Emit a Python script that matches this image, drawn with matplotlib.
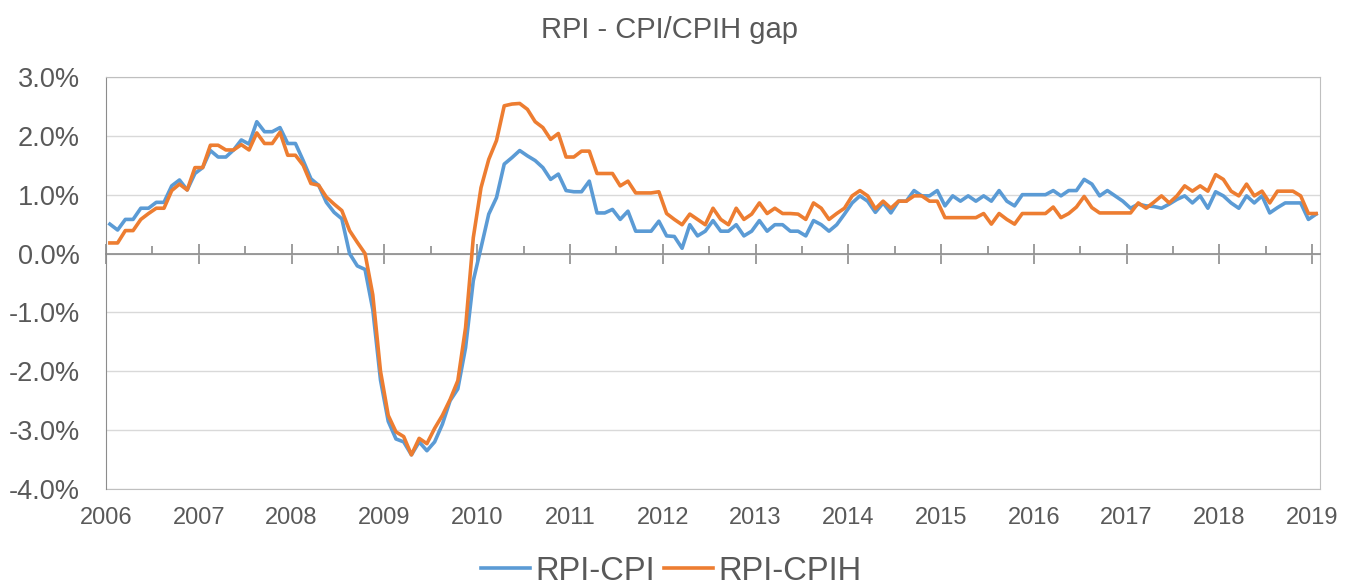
import numpy as np
import matplotlib.pyplot as plt
from matplotlib.ticker import FuncFormatter, MultipleLocator

plt.rcParams["font.family"] = ["Liberation Sans", "DejaVu Sans"]

title = "RPI - CPI/CPIH gap"
series_names = ["RPI-CPI", "RPI-CPIH"]
first_year = 2006
years = list(range(2006, 2020))

# monthly gap in percentage points, Jan 2006 .. Jan 2019
rpi_cpi = [
    0.5, 0.4, 0.58, 0.58, 0.77, 0.77, 0.87, 0.87, 1.15, 1.25, 1.08, 1.36,
    1.46, 1.75, 1.64, 1.64, 1.76, 1.93, 1.86, 2.24, 2.07, 2.07, 2.14, 1.87,
    1.87, 1.58, 1.27, 1.16, 0.87, 0.7, 0.59, 0.0, -0.21, -0.27, -0.95, -2.15,
    -2.85, -3.15, -3.2, -3.42, -3.2, -3.35, -3.2, -2.9, -2.5, -2.3, -1.6, -0.46,
    0.1, 0.67, 0.95, 1.52, 1.63, 1.75, 1.66, 1.58, 1.46, 1.26, 1.35, 1.07,
    1.05, 1.05, 1.23, 0.69, 0.69, 0.75, 0.58, 0.72, 0.38, 0.38, 0.38, 0.55,
    0.3, 0.29, 0.09, 0.49, 0.3, 0.38, 0.56, 0.38, 0.38, 0.49, 0.3, 0.38,
    0.56, 0.38, 0.49, 0.49, 0.38, 0.38, 0.3, 0.56, 0.49, 0.38, 0.49, 0.67,
    0.86, 0.98, 0.89, 0.7, 0.86, 0.69, 0.89, 0.89, 1.07, 0.98, 0.98, 1.07,
    0.81, 0.98, 0.89, 0.98, 0.89, 0.98, 0.89, 1.07, 0.89, 0.81, 1.0, 1.0,
    1.0, 1.0, 1.07, 0.98, 1.07, 1.07, 1.26, 1.18, 0.98, 1.07, 0.98, 0.89,
    0.77, 0.84, 0.81, 0.8, 0.77, 0.84, 0.92, 0.98, 0.86, 0.98, 0.77, 1.05,
    0.98, 0.86, 0.77, 0.98, 0.86, 0.98, 0.69, 0.78, 0.86, 0.86, 0.86, 0.58,
    0.67,
]
rpi_cpih = [
    0.18, 0.18, 0.39, 0.39, 0.58, 0.68, 0.77, 0.77, 1.07, 1.18, 1.08, 1.46,
    1.46, 1.84, 1.84, 1.76, 1.76, 1.85, 1.76, 2.05, 1.87, 1.87, 2.06, 1.67,
    1.67, 1.5, 1.19, 1.16, 0.96, 0.84, 0.73, 0.39, 0.19, 0.0, -0.7, -2.0,
    -2.75, -3.03, -3.11, -3.42, -3.14, -3.23, -2.97, -2.75, -2.48, -2.16, -1.26, 0.27,
    1.12, 1.6, 1.92, 2.51, 2.54, 2.55, 2.45, 2.24, 2.14, 1.94, 2.04, 1.64,
    1.64, 1.74, 1.74, 1.36, 1.36, 1.36, 1.15, 1.23, 1.03, 1.03, 1.03, 1.05,
    0.68, 0.58, 0.49, 0.67, 0.58, 0.49, 0.77, 0.58, 0.49, 0.77, 0.58, 0.67,
    0.86, 0.68, 0.77, 0.68, 0.68, 0.67, 0.58, 0.86, 0.77, 0.58, 0.68, 0.77,
    0.98, 1.07, 0.98, 0.76, 0.89, 0.77, 0.89, 0.89, 0.98, 0.98, 0.89, 0.89,
    0.61, 0.61, 0.61, 0.61, 0.61, 0.68, 0.5, 0.68, 0.58, 0.5, 0.68, 0.68,
    0.68, 0.68, 0.79, 0.61, 0.68, 0.79, 0.97, 0.78, 0.69, 0.69, 0.69, 0.69,
    0.69, 0.86, 0.77, 0.87, 0.98, 0.86, 0.98, 1.15, 1.06, 1.15, 1.06, 1.34,
    1.26, 1.06, 0.98, 1.18, 0.98, 1.06, 0.86, 1.06, 1.06, 1.06, 0.98, 0.68,
    0.68,
]

colors = ["#5B9BD5", "#ED7D31"]
text_grey = "#595959"

# Excel-style date axis: each month sits in the middle of its slot
x = first_year + (np.arange(len(rpi_cpi)) + 0.5) / 12

fig = plt.figure(figsize=(13.59, 5.84), dpi=100)
ax = fig.add_axes([0.078, 0.1627, 0.8933, 0.7055])

lines = []
for vals, name, c in zip([rpi_cpi, rpi_cpih], series_names, colors):
    (ln,) = ax.plot(x, vals, color=c, lw=2.6, label=name, zorder=3)
    lines.append(ln)

ax.set_xlim(years[0], years[-1] + 1 / 12)
ax.set_ylim(-4, 3)
ax.yaxis.set_major_locator(MultipleLocator(1))
ax.yaxis.set_major_formatter(FuncFormatter(lambda v, p: f"{v:.1f}%"))
ax.grid(axis="y", color="#D9D9D9", lw=1)
ax.set_axisbelow(True)
ax.tick_params(axis="y", length=0, pad=19, labelsize=19.5, labelcolor=text_grey)

for side in ["top", "right"]:
    ax.spines[side].set_color("#BFBFBF")
ax.spines["left"].set_color("#8C8C8C")

# axis line with ticks sits at zero
ax.spines["bottom"].set_position(("data", 0))
ax.spines["bottom"].set_color("#8C8C8C")
ax.spines["bottom"].set_linewidth(1.2)
ax.set_xticks(years)
ax.set_xticks([y + 0.5 for y in years[:-1]], minor=True)
ax.tick_params(axis="x", which="major", direction="inout", length=14,
               color="#8C8C8C", width=1.2, labelbottom=False)
ax.tick_params(axis="x", which="minor", direction="in", length=6,
               color="#8C8C8C", width=1.2)

# year labels at the bottom of the plot area
sec = ax.secondary_xaxis("bottom")
sec.set_xticks(years)
sec.set_xticklabels([str(y) for y in years])
sec.tick_params(length=0, pad=13, labelsize=17, labelcolor=text_grey)
sec.spines["bottom"].set_color("#BFBFBF")

fig.text(0.493, 1 - 30 / 584, title, ha="center", va="center",
         fontsize=21, color=text_grey)

fig.legend(handles=lines, loc="center", bbox_to_anchor=(0.494, 1 - 571 / 584),
           ncol=2, frameon=False, fontsize=23.5, handlelength=1.5,
           handletextpad=0.15, columnspacing=0.3, labelcolor=text_grey)

fig.savefig("out.png", dpi=100)
